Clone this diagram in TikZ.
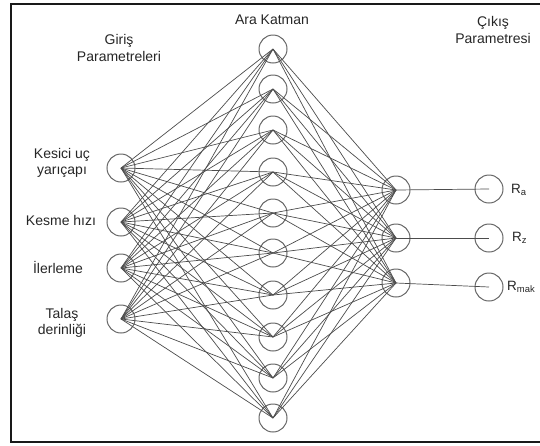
\documentclass[tikz,border=0pt]{standalone}
\usepackage{fontspec}
\setmainfont{Liberation Sans}
\begin{document}
\begin{tikzpicture}[x=1pt,y=-1pt,
  neuron/.style={circle,draw=black!60,line width=1pt,minimum size=28pt,inner sep=0pt},
  conn/.style={draw=black!70,line width=0.7pt},
  lbl/.style={font=\fontsize{14}{16.5}\selectfont,text=black!85,align=center,inner sep=0pt},
  rlbl/.style={font=\fontsize{13.5}{16}\selectfont,text=black!85,anchor=west,inner sep=0pt}]
\useasboundingbox (0,0) rectangle (540,445);
\draw[line width=2pt,black!90] (545,4) -- (11,4) -- (11,442) -- (545,442);
% input layer
\foreach \n/\y in {1/168,2/222,3/268,4/319}
  \node[neuron] (i\n) at (121,\y) {};
% hidden layer
\foreach \n/\y in {1/49,2/89,3/130,4/172,5/213,6/253,7/295,8/337,9/378,10/418}
  \node[neuron] (h\n) at (273,\y) {};
% output layer
\foreach \n/\y in {1/190,2/238,3/283}
  \node[neuron] (o\n) at (396,\y) {};
% final nodes
\foreach \n/\y in {1/189,2/238,3/287}
  \node[neuron] (f\n) at (489,\y) {};
% connections
\foreach \a in {1,...,4}
  \foreach \b in {1,...,10}
    \draw[conn] (i\a.center) -- (h\b.center);
\foreach \b in {1,...,10}
  \foreach \c in {1,...,3}
    \draw[conn] (h\b.center) -- (o\c.center);
\foreach \c in {1,...,3}
  \draw[conn] (o\c.center) -- (f\c.center);
% labels
\node[lbl] (tg) at (119,48) {Giriş\\Parametreleri};
\node[lbl] (th) at (272,20) {Ara Katman};
\node[lbl] (to) at (493,30) {Çıkış\\Parametresi};
\node[lbl] (l1) at (62,163) {Kesici uç\\yarıçapı};
\node[lbl] (l2) at (61,220) {Kesme hızı};
\node[lbl] (l3) at (58,267) {İlerleme};
\node[lbl] (l4) at (62,323) {Talaş\\derinliği};
\node[rlbl] (r1) at (511,190) {R\textsubscript{a}};
\node[rlbl] (r2) at (512,238) {R\textsubscript{z}};
\node[rlbl] (r3) at (507,287) {R\textsubscript{mak}};
\end{tikzpicture}
\end{document}
